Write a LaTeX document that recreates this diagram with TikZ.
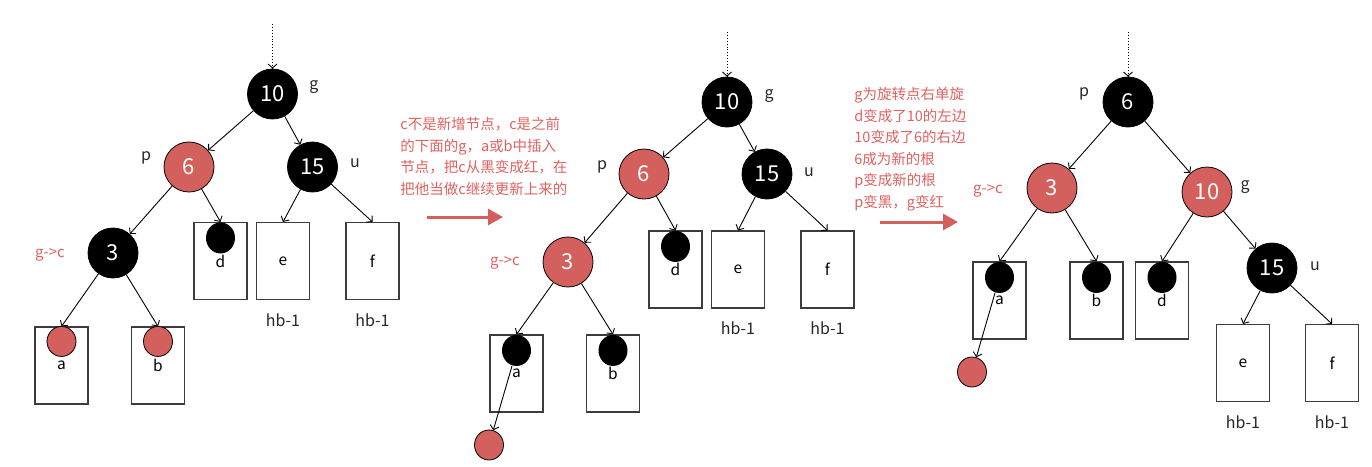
\documentclass[tikz,border=0pt]{standalone}
\usepackage{fontspec}
\setmainfont{Noto Sans CJK SC}
\usepackage{tikz}
\usetikzlibrary{arrows.meta,positioning,shapes.geometric}
\definecolor{rbred}{RGB}{212,96,94}
\definecolor{notered}{RGB}{222,98,96}
\definecolor{boxgray}{RGB}{60,60,60}

\begin{document}
\begin{tikzpicture}[x=1pt,y=-1pt,line width=0.8pt,
    blacknode/.style={circle,fill=black,draw=black,minimum size=50pt,inner sep=0pt,text=white,font=\fontsize{22}{22}\selectfont},
    rednode/.style={blacknode,fill=rbred},
    leafbox/.style={draw=boxgray,line width=1.1pt,minimum width=53pt,minimum height=77pt,inner sep=0pt,font=\fontsize{15.5}{15.5}\selectfont},
    dotblk/.style={ellipse,fill=black,minimum width=29pt,minimum height=31pt,inner sep=0pt},
    dotred/.style={ellipse,fill=rbred,draw=black,minimum width=29pt,minimum height=30pt,inner sep=0pt},
    tag/.style={font=\fontsize{16}{16}\selectfont,text=black!85,inner sep=0pt},
    redtag/.style={font=\fontsize{15}{15}\selectfont,text=notered,inner sep=0pt},
    note/.style={align=left,font=\fontsize{14.5}{21.5}\selectfont,text=notered,inner sep=0pt,anchor=north west},
    edge/.style={-{Straight Barb[length=4pt,width=9pt]},line width=0.9pt},
    dotedge/.style={edge,dotted},
    bigarrow/.style={-{Triangle[length=15pt,width=16pt]},line width=3pt,draw=rbred}]
  \useasboundingbox (0,0) rectangle (1372,466);

  % before
  \coordinate (Ltop) at (272.5,24);
  \node[blacknode] (L10) at (272.5,94) {10};
  \node[rednode] (L6) at (189,167) {6};
  \node[blacknode] (L15) at (312.5,167) {15};
  \node[blacknode] (L3) at (113,253) {3};
  \node[leafbox] (Lbd) at (220.5,261) {d};
  \node[leafbox] (Lbe) at (283,261) {e};
  \node[leafbox] (Lbf) at (372.5,261) {f};
  \node[leafbox] (Lba) at (61.5,365.5) {a};
  \node[leafbox] (Lbb) at (158,365.5) {b};
  \node[dotblk] (Ld) at ([yshift=-16pt]Lbd.north) {};
  \node[dotred] (La) at ([yshift=-15pt]Lba.north) {};
  \node[dotred] (Lb) at ([yshift=-15pt]Lbb.north) {};
  \node[tag] (Lg) at (314,87) {g};
  \node[tag] (Lp) at (146,158) {p};
  \node[tag] (Lu) at (355,163) {u};
  \node[redtag] (Lgc) at (50,255) {g->c};
  \node[tag,below=13pt of Lbe] (Lhe) {hb-1};
  \node[tag,below=13pt of Lbf] (Lhf) {hb-1};
  \draw[dotedge] (Ltop) -- (L10);
  \draw[edge] (L10) -- (L6);
  \draw[edge] (L10) -- (L15);
  \draw[edge] (L6) -- (L3);
  \draw[edge] (L6) -- (Lbd.north);
  \draw[edge] (L15) -- (Lbe.north);
  \draw[edge] (L15) -- (Lbf.north);
  \draw[edge] (L3) -- (Lba.north);
  \draw[edge] (L3) -- (Lbb.north);

  % step 1
  \node[note] (Mnote) at (400,117) {c不是新增节点，c是之前\\的下面的g，a或b中插入\\节点，把c从黑变成红，在\\把他当做c继续更新上来的};
  \coordinate (Mfrom) at (427,217);
  \coordinate (Mto) at (503,217);
  \draw[bigarrow] (Mfrom) -- (Mto);

  \coordinate (Mtop) at (727,32);
  \node[blacknode] (M10) at (727,102) {10};
  \node[rednode] (M6) at (644,174) {6};
  \node[blacknode] (M15) at (767,174) {15};
  \node[rednode] (M3) at (568,262) {3};
  \node[leafbox] (Mbd) at (675.5,269.5) {d};
  \node[leafbox] (Mbe) at (738,269.5) {e};
  \node[leafbox] (Mbf) at (827.5,269.5) {f};
  \node[leafbox] (Mba) at (516.5,373.5) {a};
  \node[leafbox] (Mbb) at (613,373.5) {b};
  \node[dotblk] (Md) at ([yshift=-16pt]Mbd.north) {};
  \node[dotblk] (Ma) at ([yshift=-16pt]Mba.north) {};
  \node[dotblk] (Mb) at ([yshift=-16pt]Mbb.north) {};
  \node[dotred] (Mc) at (489,445) {};
  \node[tag] (Mg) at (769,96) {g};
  \node[tag] (Mp) at (602,167) {p};
  \node[tag] (Mu) at (809,172) {u};
  \node[redtag] (Mgc) at (505,263) {g->c};
  \node[tag,below=13pt of Mbe] (Mhe) {hb-1};
  \node[tag,below=13pt of Mbf] (Mhf) {hb-1};
  \draw[dotedge] (Mtop) -- (M10);
  \draw[edge] (M10) -- (M6);
  \draw[edge] (M10) -- (M15);
  \draw[edge] (M6) -- (M3);
  \draw[edge] (M6) -- (Mbd.north);
  \draw[edge] (M15) -- (Mbe.north);
  \draw[edge] (M15) -- (Mbf.north);
  \draw[edge] (M3) -- (Mba.north);
  \draw[edge] (M3) -- (Mbb.north);
  \draw[edge] (Ma) -- (Mc);

  % step 2
  \node[note] (Rnote) at (854,87) {g为旋转点右单旋\\d变成了10的左边\\10变成了6的右边\\6成为新的根\\p变成新的根\\p变黑，g变红};
  \coordinate (Rfrom) at (880,222);
  \coordinate (Rto) at (958,222);
  \draw[bigarrow] (Rfrom) -- (Rto);

  \coordinate (Rtop) at (1128,32);
  \node[blacknode] (R6) at (1128,102) {6};
  \node[rednode] (R3) at (1052,188) {3};
  \node[rednode] (R10) at (1207,192) {10};
  \node[blacknode] (R15) at (1272,268) {15};
  \node[leafbox] (Rba) at (999.5,300.5) {a};
  \node[leafbox] (Rbb) at (1096.5,300.5) {b};
  \node[leafbox] (Rbd) at (1162,300.5) {d};
  \node[leafbox] (Rbe) at (1243,363) {e};
  \node[leafbox] (Rbf) at (1332,363) {f};
  \node[dotblk] (Ra) at ([yshift=-16pt]Rba.north) {};
  \node[dotblk] (Rb) at ([yshift=-16pt]Rbb.north) {};
  \node[dotblk] (Rd) at ([yshift=-16pt]Rbd.north) {};
  \node[dotred] (Rc) at (972,372) {};
  \node[tag] (Rp) at (1084,94) {p};
  \node[redtag] (Rgc) at (988,191) {g->c};
  \node[tag] (Rg) at (1245,187) {g};
  \node[tag] (Ru) at (1315,266) {u};
  \node[tag,below=13pt of Rbe] (Rhe) {hb-1};
  \node[tag,below=13pt of Rbf] (Rhf) {hb-1};
  \draw[dotedge] (Rtop) -- (R6);
  \draw[edge] (R6) -- (R3);
  \draw[edge] (R6) -- (R10);
  \draw[edge] (R3) -- (Rba.north);
  \draw[edge] (R3) -- (Rbb.north);
  \draw[edge] (R10) -- (Rbd.north);
  \draw[edge] (R10) -- (R15);
  \draw[edge] (R15) -- (Rbe.north);
  \draw[edge] (R15) -- (Rbf.north);
  \draw[edge] (Ra) -- (Rc);
\end{tikzpicture}
\end{document}
